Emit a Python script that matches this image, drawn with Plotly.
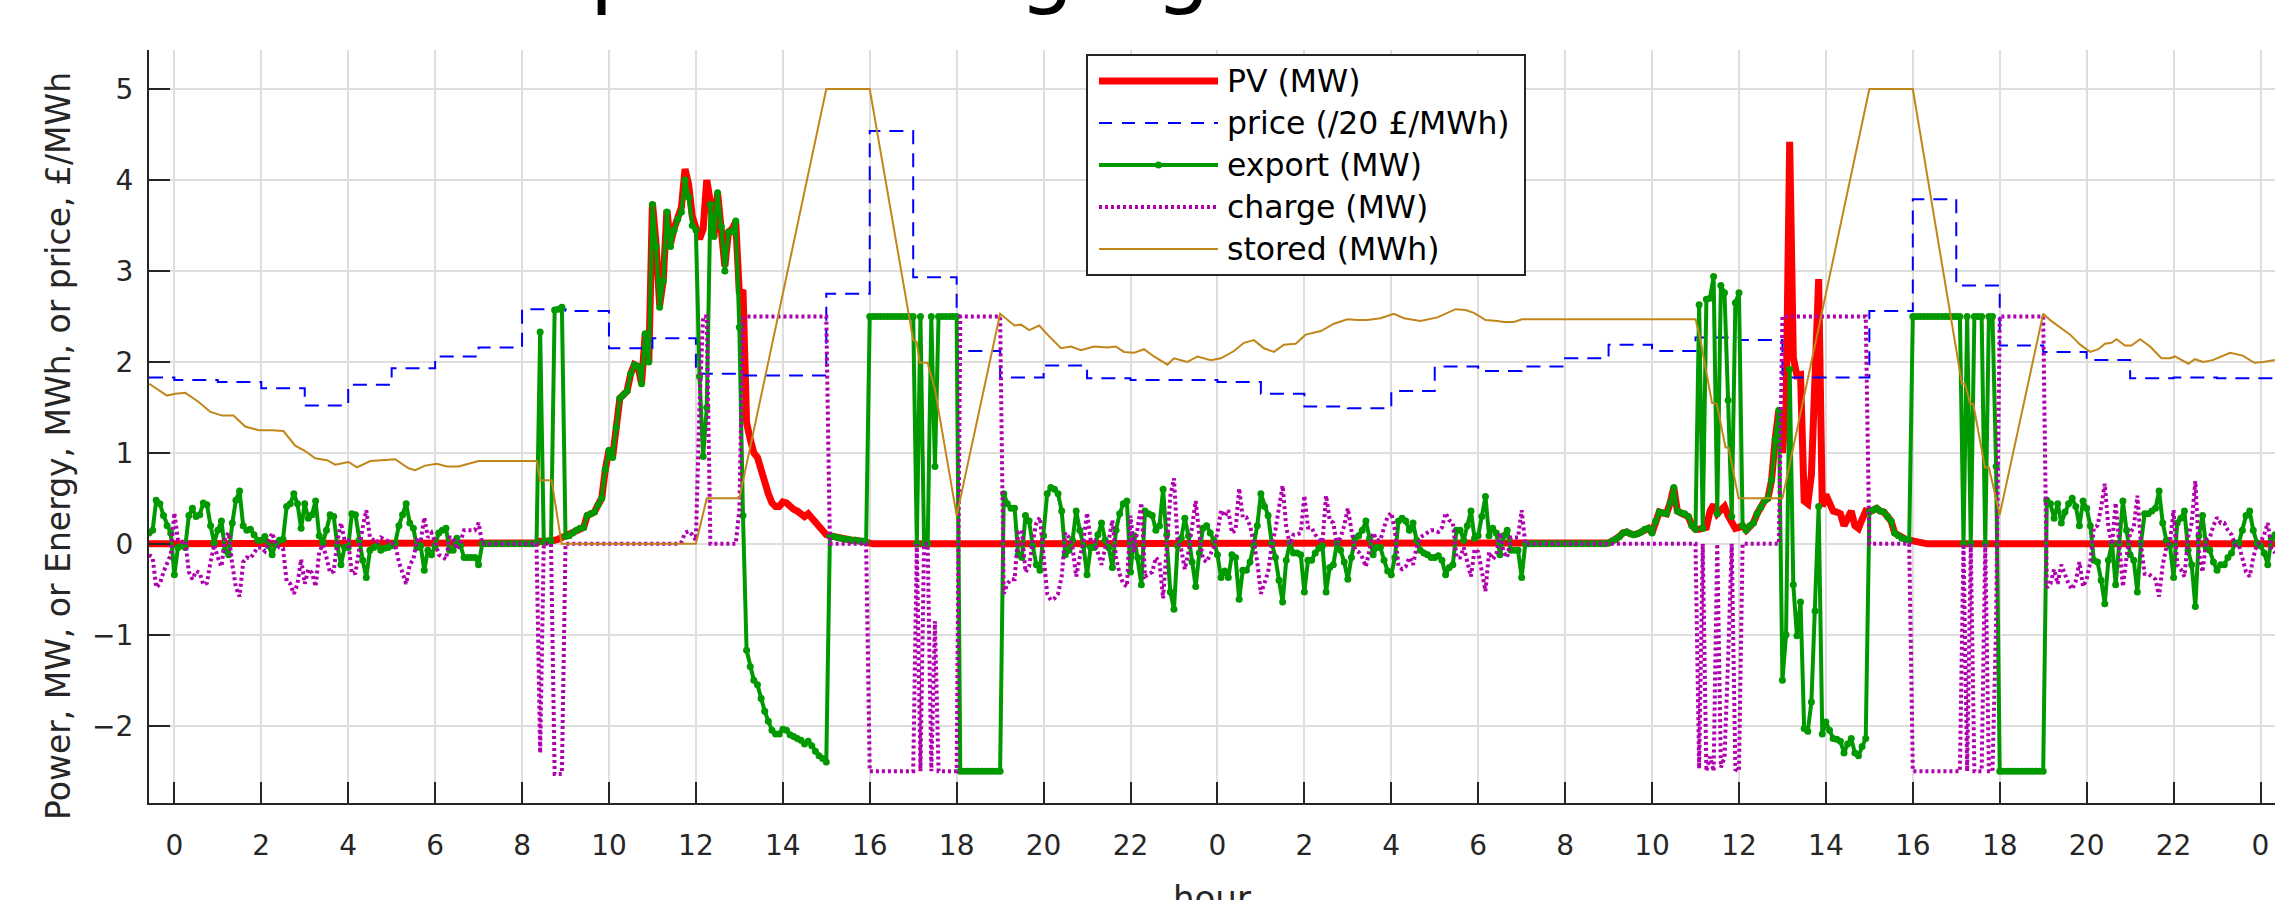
import numpy as np
import plotly.graph_objects as go

# ---------------- data (5-minute samples, hours) ----------------
t_hours = np.arange(-7, 581) / 12.0   # -0:35 ... 48:20

pv_mw = (
    [0.0] * 103 +
    [0.00, 0.00, 0.00, 0.00, 0.01, 0.03, 0.02, 0.03, 0.03, 0.04, 0.05, 0.07] +   # 8
    [0.08, 0.09, 0.12, 0.15, 0.17, 0.18, 0.31, 0.33, 0.35, 0.43, 0.50, 0.82] +   # 9
    [1.03, 0.95, 1.28, 1.60, 1.64, 1.68, 1.87, 1.97, 1.95, 1.76, 2.31, 2.00] +   # 10
    [3.75, 3.30, 2.62, 2.90, 3.67, 3.30, 3.47, 3.60, 3.70, 4.12, 3.95, 3.60] +   # 11
    [3.49, 3.35, 3.46, 4.00, 3.76, 3.38, 3.86, 3.49, 3.05, 3.43, 3.46, 3.54] +   # 12
    [2.75, 2.79, 1.33, 1.15, 1.00, 0.95, 0.80, 0.66, 0.55, 0.45, 0.41, 0.41] +   # 13
    [0.46, 0.45, 0.40, 0.38, 0.36, 0.34, 0.30, 0.33, 0.28, 0.22, 0.17, 0.14] +   # 14
    [0.10, 0.09, 0.08, 0.07, 0.06, 0.05, 0.05, 0.04, 0.04, 0.03, 0.03, 0.02] +   # 15
    [0.01] + [0.0] * 203 +
    [0.01, 0.03, 0.05, 0.08, 0.12, 0.13, 0.11, 0.10, 0.11, 0.13, 0.16, 0.17] +   # 33
    [0.12, 0.25, 0.35, 0.34, 0.33, 0.45, 0.62, 0.36, 0.34, 0.33, 0.30, 0.20] +   # 34
    [0.16, 0.16, 0.17, 0.18, 0.36, 0.43, 0.33, 0.38, 0.41, 0.31, 0.25, 0.17] +   # 35
    [0.18, 0.20, 0.15, 0.20, 0.23, 0.33, 0.40, 0.47, 0.50, 0.70, 1.15, 1.47] +   # 36
    [1.00, 1.50, 4.42, 2.05, 1.85, 1.86, 0.47, 0.44, 0.76, 1.76, 2.91, 0.41] +   # 37
    [0.54, 0.45, 0.36, 0.35, 0.33, 0.20, 0.30, 0.36, 0.20, 0.17, 0.27, 0.36] +   # 38
    [0.35, 0.37, 0.39, 0.36, 0.35, 0.30, 0.25, 0.12, 0.09, 0.06, 0.05, 0.04] +   # 39
    [0.03, 0.02, 0.01] + [0.0] * 98
)

export_mw = (
    [0.12, 0.15, 0.48, 0.44, 0.31, 0.20, 0.12] +
    [-0.34, -0.04, -0.02, -0.04, 0.31, 0.39, 0.30, 0.32, 0.45, 0.43, 0.20, 0.01] +   # 0
    [0.15, 0.25, -0.07, -0.12, 0.23, 0.48, 0.58, 0.20, 0.15, 0.16, 0.10, 0.04] +     # 1
    [0.04, 0.08, -0.02, -0.12, 0.00, 0.04, 0.05, 0.41, 0.44, 0.55, 0.44, 0.17] +     # 2
    [0.44, 0.28, 0.32, 0.47, 0.09, 0.01, 0.15, 0.32, 0.30, -0.02, -0.23, -0.04] +    # 3
    [-0.04, 0.33, 0.32, 0.04, -0.18, -0.37, -0.07, -0.04, -0.02, -0.07, -0.05, -0.04] +  # 4
    [-0.02, 0.01, 0.20, 0.32, 0.44, 0.23, 0.17, -0.04, -0.02, -0.29, -0.07, -0.12] +  # 5
    [-0.02, 0.12, 0.15, 0.17, -0.07, -0.07, 0.06, -0.02, -0.15, -0.15, -0.15, -0.15] +  # 6
    [-0.23] + [0.0] * 11 +                                                            # 7
    [0.00, 0.00, 0.00, 0.00, 0.01, 2.33, 0.02, 0.03, 0.03, 2.57, 2.58, 2.60] +       # 8
    [0.08, 0.09, 0.12, 0.15, 0.17, 0.18, 0.31, 0.33, 0.35, 0.43, 0.50, 0.82] +       # 9
    [1.03, 0.95, 1.28, 1.60, 1.64, 1.68, 1.87, 1.97, 1.95, 1.76, 2.31, 2.00] +       # 10
    [3.73, 3.27, 2.60, 2.89, 3.65, 3.27, 3.45, 3.57, 3.65, 4.00, 3.81, 3.50] +       # 11
    [3.45, 1.84, 0.96, 1.50, 3.73, 3.38, 3.86, 3.49, 3.00, 3.43, 3.43, 3.55] +       # 12
    [2.38, 0.31, -1.17, -1.35, -1.50, -1.55, -1.70, -1.84, -1.95, -2.05, -2.09, -2.09] +  # 13
    [-2.04, -2.05, -2.10, -2.12, -2.14, -2.16, -2.20, -2.17, -2.22, -2.28, -2.33, -2.36] +  # 14
    [-2.40, 0.09, 0.08, 0.07, 0.06, 0.05, 0.05, 0.04, 0.04, 0.03, 0.03, 0.02] +      # 15
    [2.50] * 12 +                                                                     # 16
    [2.50, 0.00, 2.50, 0.00, 0.00, 2.50, 0.85, 2.50, 2.50, 2.50, 2.50, 2.50] +       # 17
    [2.50] + [-2.50] * 11 +                                                           # 18
    [-2.50, 0.55, 0.44, 0.39, 0.39, -0.12, -0.15, 0.31, 0.25, -0.02, -0.23, -0.29] +  # 19
    [0.09, 0.55, 0.62, 0.60, 0.55, 0.36, -0.12, -0.07, 0.04, 0.36, 0.15, -0.02] +    # 20
    [-0.34, -0.04, -0.04, 0.10, 0.23, 0.04, -0.04, -0.26, 0.15, 0.33, 0.44, 0.47] +  # 21
    [-0.31, 0.09, -0.15, -0.45, 0.36, 0.33, 0.31, 0.15, 0.20, 0.60, 0.10, -0.53] +   # 22
    [-0.72, -0.02, 0.06, 0.28, 0.09, -0.20, -0.47, -0.10, 0.17, 0.20, 0.12, 0.04] +  # 23
    [-0.12, -0.37, -0.30, -0.37, -0.12, -0.15, -0.61, -0.29, -0.29, -0.20, -0.02, 0.20] +  # 24
    [0.55, 0.41, 0.31, 0.01, -0.15, -0.40, -0.64, -0.18, 0.01, -0.10, -0.10, -0.12] +  # 25
    [-0.53, -0.18, -0.18, -0.10, -0.05, -0.02, -0.53, -0.26, -0.23, 0.01, -0.07, -0.20] +  # 26
    [-0.39, -0.15, 0.06, 0.09, 0.15, 0.25, 0.06, -0.12, -0.04, -0.04, -0.18, -0.30] +  # 27
    [-0.34, -0.15, 0.25, 0.28, 0.25, 0.15, 0.23, 0.04, -0.07, -0.10, -0.12, -0.15] +  # 28
    [-0.15, -0.13, -0.18, -0.34, -0.26, -0.23, 0.15, 0.15, 0.04, 0.20, 0.36, 0.06] +  # 29
    [0.09, 0.30, 0.52, 0.09, 0.17, 0.12, -0.12, 0.09, 0.15, -0.07, -0.07, -0.07] +   # 30
    [-0.37] + [0.0] * 23 +                                                            # 31-32
    [0.01, 0.03, 0.05, 0.08, 0.12, 0.13, 0.11, 0.10, 0.11, 0.13, 0.16, 0.17] +       # 33
    [0.12, 0.25, 0.35, 0.34, 0.33, 0.45, 0.62, 0.36, 0.34, 0.33, 0.30, 0.20] +       # 34
    [0.16, 2.63, 0.17, 2.69, 2.70, 2.94, 0.33, 2.84, 2.76, 1.58, 0.30, 2.65] +       # 35
    [2.76, 0.20, 0.15, 0.20, 0.23, 0.33, 0.40, 0.47, 0.50, 0.70, 1.15, 1.47] +       # 36
    [-1.50, -1.00, 1.92, -0.45, -1.01, -0.64, -2.03, -2.06, -1.74, -0.74, 0.41, -2.09] +  # 37
    [-1.96, -2.05, -2.14, -2.15, -2.17, -2.30, -2.20, -2.14, -2.30, -2.33, -2.23, -2.14] +  # 38
    [0.35, 0.37, 0.39, 0.36, 0.35, 0.30, 0.25, 0.12, 0.09, 0.06, 0.05, 0.04] +       # 39
    [2.50] * 12 +                                                                     # 40
    [2.50, 2.50, 0.00, 2.50, 0.00, 2.50, 2.50, 2.50, 0.00, 2.50, 2.50, 0.85] +       # 41
    [-2.50] * 12 +                                                                    # 42
    [-2.50, 0.48, 0.44, 0.28, 0.44, 0.23, 0.35, 0.44, 0.50, 0.41, 0.20, 0.47] +      # 43
    [0.39, 0.20, -0.18, -0.20, -0.40, -0.66, -0.18, 0.01, -0.45, 0.01, 0.47, 0.15] +  # 44
    [-0.12, -0.18, -0.53, 0.01, 0.33, 0.33, 0.36, 0.39, 0.58, 0.23, 0.04, -0.02] +   # 45
    [-0.37, 0.23, 0.28, 0.36, -0.07, -0.23, -0.69, 0.09, 0.31, -0.04, -0.07, -0.20] +  # 46
    [-0.29, -0.23, -0.23, -0.15, -0.10, 0.01, 0.01, 0.15, 0.31, 0.36, 0.15, 0.01] +  # 47
    [-0.02, -0.10, -0.23, 0.06, 0.10]                                                 # 48
)

charge_mw = (
    [-0.12, -0.15, -0.48, -0.44, -0.31, -0.20, -0.12] +
    [0.34, 0.04, 0.02, 0.04, -0.31, -0.39, -0.30, -0.32, -0.45, -0.43, -0.20, -0.01] +   # 0
    [-0.15, -0.25, 0.07, 0.12, -0.23, -0.48, -0.58, -0.20, -0.15, -0.16, -0.10, -0.04] +  # 1
    [-0.04, -0.08, 0.02, 0.12, 0.00, -0.04, -0.05, -0.41, -0.44, -0.55, -0.44, -0.17] +  # 2
    [-0.44, -0.28, -0.32, -0.47, -0.09, -0.01, -0.15, -0.32, -0.30, 0.02, 0.23, 0.04] +  # 3
    [0.04, -0.33, -0.32, -0.04, 0.18, 0.37, 0.07, 0.04, 0.02, 0.07, 0.05, 0.04] +        # 4
    [0.02, -0.01, -0.20, -0.32, -0.44, -0.23, -0.17, 0.04, 0.02, 0.29, 0.07, 0.12] +     # 5
    [0.02, -0.12, -0.15, -0.17, 0.07, 0.07, -0.06, 0.02, 0.15, 0.15, 0.15, 0.15] +       # 6
    [0.23] + [0.0] * 11 +                                                                 # 7
    [0.00, 0.00, 0.00, 0.00, 0.00, -2.30, 0.00, 0.00, 0.00, -2.53, -2.53, -2.53] +      # 8
    [0.0] * 24 +                                                                          # 9-10
    [0.00, 0.00, 0.00, 0.00, 0.00, 0.00, 0.00, 0.00, 0.02, 0.12, 0.14, 0.10] +          # 11
    [0.04, 1.51, 2.50, 2.50, 0.00, 0.00, 0.00, 0.00, 0.00, 0.00, 0.00, 0.00] +          # 12
    [0.37, 2.48] + [2.50] * 10 +                                                          # 13
    [2.50] * 12 +                                                                         # 14
    [2.50] + [0.0] * 11 +                                                                 # 15
    [-2.50] * 12 +                                                                        # 16
    [-2.50, 0.00, -2.50, 0.00, 0.00, -2.50, -0.85, -2.50, -2.50, -2.50, -2.50, -2.50] +  # 17
    [-2.50] + [2.50] * 11 +                                                               # 18
    [2.50, -0.55, -0.44, -0.39, -0.39, 0.12, 0.15, -0.31, -0.25, 0.02, 0.23, 0.29] +     # 19
    [-0.09, -0.55, -0.62, -0.60, -0.55, -0.36, 0.12, 0.07, -0.04, -0.36, -0.15, 0.02] +  # 20
    [0.34, 0.04, 0.04, -0.10, -0.23, -0.04, 0.04, 0.26, -0.15, -0.33, -0.44, -0.47] +    # 21
    [0.31, -0.09, 0.15, 0.45, -0.36, -0.33, -0.31, -0.15, -0.20, -0.60, -0.10, 0.53] +   # 22
    [0.72, 0.02, -0.06, -0.28, -0.09, 0.20, 0.47, 0.10, -0.17, -0.20, -0.12, -0.04] +    # 23
    [0.12, 0.37, 0.30, 0.37, 0.12, 0.15, 0.61, 0.29, 0.29, 0.20, 0.02, -0.20] +          # 24
    [-0.55, -0.41, -0.31, -0.01, 0.15, 0.40, 0.64, 0.18, -0.01, 0.10, 0.10, 0.12] +      # 25
    [0.53, 0.18, 0.18, 0.10, 0.05, 0.02, 0.53, 0.26, 0.23, -0.01, 0.07, 0.20] +          # 26
    [0.39, 0.15, -0.06, -0.09, -0.15, -0.25, -0.06, 0.12, 0.04, 0.04, 0.18, 0.30] +      # 27
    [0.34, 0.15, -0.25, -0.28, -0.25, -0.15, -0.23, -0.04, 0.07, 0.10, 0.12, 0.15] +     # 28
    [0.15, 0.13, 0.18, 0.34, 0.26, 0.23, -0.15, -0.15, -0.04, -0.20, -0.36, -0.06] +     # 29
    [-0.09, -0.30, -0.52, -0.09, -0.17, -0.12, 0.12, -0.09, -0.15, 0.07, 0.07, 0.07] +   # 30
    [0.37] + [0.0] * 47 +                                                                 # 31-34
    [0.00, -2.47, 0.00, -2.50, -2.34, -2.50, 0.00, -2.46, -2.35, -1.27, 0.00, -2.48] +  # 35
    [-2.50] + [0.0] * 11 +                                                                # 36
    [2.50] * 24 +                                                                         # 37-38
    [0.0] * 12 +                                                                          # 39
    [-2.50] * 12 +                                                                        # 40
    [-2.50, -2.50, 0.00, -2.50, 0.00, -2.50, -2.50, -2.50, 0.00, -2.50, -2.50, -0.85] +  # 41
    [2.50] * 12 +                                                                         # 42
    [2.50, -0.48, -0.44, -0.28, -0.44, -0.23, -0.35, -0.44, -0.50, -0.41, -0.20, -0.47] +  # 43
    [-0.39, -0.20, 0.18, 0.20, 0.40, 0.66, 0.18, -0.01, 0.45, -0.01, -0.47, -0.15] +     # 44
    [0.12, 0.18, 0.53, -0.01, -0.33, -0.33, -0.36, -0.39, -0.58, -0.23, -0.04, 0.02] +   # 45
    [0.37, -0.23, -0.28, -0.36, 0.07, 0.23, 0.69, -0.09, -0.31, 0.04, 0.07, 0.20] +      # 46
    [0.29, 0.23, 0.23, 0.15, 0.10, -0.01, -0.01, -0.15, -0.31, -0.36, -0.15, -0.01] +    # 47
    [0.02, 0.10, 0.23, -0.06, -0.10]                                                      # 48
)

stored_t = [-0.58, -0.17, 0.02, 0.25, 0.56, 0.83, 1.10, 1.36, 1.63, 1.94,
            2.25, 2.51, 2.78, 3.01, 3.24, 3.51, 3.70, 4.01, 4.20, 4.51,
            4.77, 5.08, 5.39, 5.54, 5.77, 6.04, 6.27, 6.54, 7.00, 8.34,
            8.41, 8.68, 8.91, 12.0, 12.25, 13.0, 15.0, 16.0, 17.0, 17.08,
            17.15, 17.33, 17.5, 18.0, 19.0, 19.17, 19.33, 19.48, 19.67, 19.9,
            20.09, 20.4, 20.63, 20.86, 21.16, 21.47, 21.66, 21.85, 22.08, 22.31,
            22.54, 22.85, 23.0, 23.31, 23.54, 23.85, 24.08, 24.38, 24.61, 24.84,
            25.07, 25.3, 25.53, 25.8, 26.03, 26.38, 26.68, 26.99, 27.22, 27.45,
            27.75, 28.06, 28.29, 28.67, 29.06, 29.48, 29.71, 29.9, 30.17, 30.44,
            30.59, 30.82, 31.01, 35.0, 35.11, 35.38, 35.49, 35.69, 35.76, 35.99,
            37.0, 39.0, 40.0, 41.13, 41.2, 41.32, 41.39, 41.66, 41.75, 42.0,
            43.0, 43.16, 43.39, 43.62, 43.85, 44.08, 44.27, 44.42, 44.57, 44.69,
            44.88, 45.03, 45.23, 45.46, 45.72, 45.92, 46.03, 46.18, 46.34, 46.49,
            46.68, 46.9, 47.1, 47.3, 47.59, 47.86, 48.06, 48.33]
stored_mwh = [1.76, 1.63, 1.65, 1.66, 1.56, 1.45, 1.41, 1.41, 1.29, 1.25,
              1.25, 1.24, 1.08, 1.02, 0.94, 0.92, 0.87, 0.90, 0.84, 0.91,
              0.92, 0.93, 0.83, 0.81, 0.86, 0.88, 0.85, 0.85, 0.91, 0.91,
              0.70, 0.70, 0.0, 0.0, 0.5, 0.5, 5.0, 5.0, 2.24, 2.22,
              1.99, 1.99, 1.70, 0.31, 2.53, 2.46, 2.40, 2.41, 2.35, 2.40,
              2.30, 2.15, 2.17, 2.13, 2.17, 2.16, 2.17, 2.11, 2.10, 2.14,
              2.06, 1.97, 2.04, 2.00, 2.06, 2.02, 2.04, 2.12, 2.21, 2.24,
              2.15, 2.11, 2.19, 2.20, 2.30, 2.34, 2.42, 2.47, 2.46, 2.46,
              2.48, 2.53, 2.48, 2.45, 2.49, 2.58, 2.57, 2.54, 2.46, 2.45,
              2.44, 2.44, 2.47, 2.47, 2.25, 1.55, 1.54, 1.06, 1.06, 0.50,
              0.50, 5.0, 5.0, 1.76, 1.76, 1.54, 1.54, 0.84, 0.84, 0.32,
              2.53, 2.46, 2.38, 2.30, 2.19, 2.11, 2.14, 2.20, 2.21, 2.25,
              2.18, 2.18, 2.25, 2.17, 2.04, 2.04, 2.06, 2.02, 1.98, 2.03,
              2.00, 2.02, 2.06, 2.10, 2.07, 1.99, 2.00, 2.02]

price_hour = list(range(-1, 49))
price_per20 = [1.83, 1.80, 1.78, 1.71, 1.52, 1.75, 1.93, 2.06, 2.16, 2.58,
               2.56, 2.15, 2.26, 1.87, 1.85, 1.85, 2.75, 4.54, 2.93, 2.12,
               1.83, 1.96, 1.82, 1.80, 1.80, 1.78, 1.65, 1.51, 1.49, 1.68,
               1.95, 1.90, 1.95, 2.04, 2.19, 2.12, 2.27, 2.24, 1.83, 1.83,
               2.56, 3.79, 2.84, 2.18, 2.11, 2.02, 1.82, 1.83, 1.82, 1.82]

tick_hours = list(range(0, 49, 2))
tick_labels = [str(h % 24) for h in tick_hours]

assert len(pv_mw) == len(t_hours) == len(export_mw) == len(charge_mw)
assert len(stored_t) == len(stored_mwh) and len(price_hour) == len(price_per20)

# ---------------- styling ----------------
W, H = 2284, 900
L, R, T, B = 149, 2275, 50, 803
FONT = "DejaVu Sans, Liberation Sans, Arial, sans-serif"
AX = "#262626"
C_PV, C_PR, C_EX, C_CH, C_ST = "#FF0000", "#0000FF", "#009900", "#B000B0", "#C0861A"
DASH_PR, DASH_CH = "14px,9px", "3px,3px"

def px_x(p):
    return (p - L) / (R - L)

def px_y(p):
    return (B - p) / (B - T)

price_x = [max(h, t_hours[0]) for h in price_hour] + [t_hours[-1]]
price_y = price_per20 + [price_per20[-1]]

fig = go.Figure()
fig.add_trace(go.Scatter(x=t_hours, y=pv_mw, mode="lines", name="PV (MW)",
                         line=dict(color=C_PV, width=7)))
fig.add_trace(go.Scatter(x=price_x, y=price_y, mode="lines", name="price (/20 £/MWh)",
                         line=dict(color=C_PR, width=2, dash=DASH_PR, shape="hv")))
fig.add_trace(go.Scatter(x=t_hours, y=export_mw, mode="lines+markers", name="export (MW)",
                         line=dict(color=C_EX, width=4), marker=dict(color=C_EX, size=7)))
fig.add_trace(go.Scatter(x=t_hours, y=charge_mw, mode="lines", name="charge (MW)",
                         line=dict(color=C_CH, width=4, dash=DASH_CH)))
fig.add_trace(go.Scatter(x=stored_t, y=stored_mwh, mode="lines", name="stored (MWh)",
                         line=dict(color=C_ST, width=2)))

axis_common = dict(showline=True, linecolor=AX, linewidth=2, ticks="inside", ticklen=21,
                   tickwidth=2, tickcolor=AX, showgrid=True, gridcolor="#dedede", gridwidth=2,
                   zeroline=False, automargin=False,
                   tickfont=dict(family=FONT, size=28, color=AX))
fig.update_xaxes(range=[t_hours[0], t_hours[-1]], tickvals=tick_hours, ticktext=tick_labels,
                 ticklabelstandoff=16, **axis_common)
fig.update_yaxes(range=[-2.85, 5.43], tickvals=list(range(-2, 6)), ticklabelstandoff=8,
                 **axis_common)

# custom legend (MATLAB style)
shapes = [dict(type="rect", xref="paper", yref="paper", x0=px_x(1087), x1=px_x(1525),
               y0=px_y(275), y1=px_y(55), line=dict(color=AX, width=2), fillcolor="white",
               layer="above")]
entries = [("PV (MW)", C_PV, 7, "solid"), ("price (/20 £/MWh)", C_PR, 2, "13px,10px"),
           ("export (MW)", C_EX, 4, "solid"), ("charge (MW)", C_CH, 4, DASH_CH),
           ("stored (MWh)", C_ST, 2, "solid")]
annotations = []
for i, (txt, col, wd, ds) in enumerate(entries):
    yc = 81 + i * 42
    shapes.append(dict(type="line", xref="paper", yref="paper", x0=px_x(1099), x1=px_x(1218),
                       y0=px_y(yc), y1=px_y(yc), line=dict(color=col, width=wd, dash=ds)))
    if txt.startswith("export"):
        shapes.append(dict(type="circle", xref="paper", yref="paper", x0=px_x(1155), x1=px_x(1162),
                           y0=px_y(yc + 3.5), y1=px_y(yc - 3.5), fillcolor=col, line=dict(color=col, width=0)))
    annotations.append(dict(text=txt, xref="paper", yref="paper", x=px_x(1225), y=px_y(yc),
                            xanchor="left", yanchor="middle", showarrow=False,
                            font=dict(family=FONT, size=31.5, color="black")))

annotations.append(dict(text="Power, MW, or Energy, MWh, or price, £/MWh", textangle=-90,
                        xref="paper", yref="paper", x=px_x(58), y=px_y(446),
                        xanchor="center", yanchor="middle", showarrow=False,
                        font=dict(family=FONT, size=33, color=AX)))
annotations.append(dict(text="hour", xref="paper", yref="paper", x=px_x(1212), y=px_y(898),
                        xanchor="center", yanchor="middle", showarrow=False,
                        font=dict(family=FONT, size=34, color=AX)))
annotations.append(dict(text="PV plus storage generation schedule", xref="paper", yref="paper",
                        x=px_x(448), y=px_y(20), xanchor="left", yanchor="bottom", showarrow=False,
                        font=dict(family=FONT, size=87, color="black")))

fig.update_layout(width=W, height=H, margin=dict(l=L, r=W - R, t=T, b=H - B),
                  paper_bgcolor="white", plot_bgcolor="white", showlegend=False,
                  hovermode=False, shapes=shapes, annotations=annotations)
fig.write_html("out.html", config={"displayModeBar": False, "staticPlot": True},
               post_script="document.body.style.margin='0';document.body.style.overflow='hidden';")
